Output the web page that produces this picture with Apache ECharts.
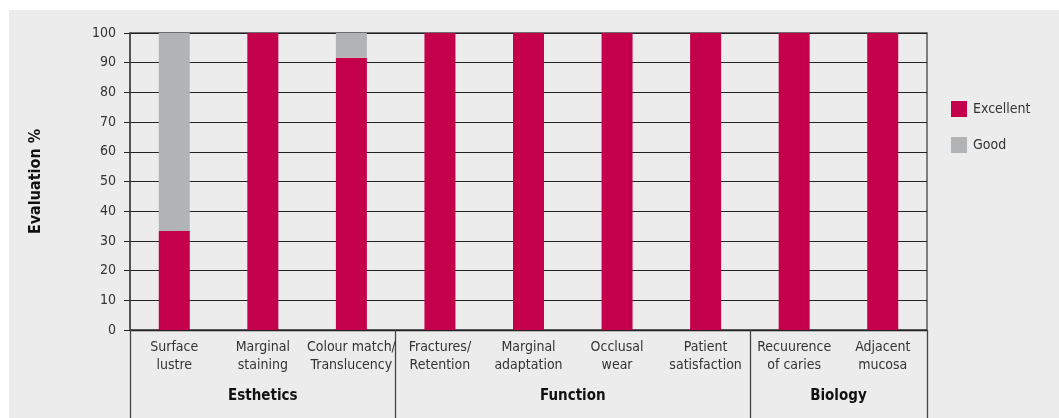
<!DOCTYPE html>
<html>
<head>
<meta charset="utf-8">
<script src="https://cdn.jsdelivr.net/npm/echarts@6/dist/echarts.min.js"></script>
<style>
  html, body { margin: 0; padding: 0; background: #ffffff; }
  #chart { position: absolute; left: 9px; top: 10px; width: 1050px; height: 408px; background: #ebeceb; }
</style>
</head>
<body>
<div id="chart"></div>
<script>
const categories = ['Surface\nlustre', 'Marginal\nstaining', 'Colour match/\nTranslucency', 'Fractures/\nRetention', 'Marginal\nadaptation', 'Occlusal\nwear', 'Patient\nsatisfaction', 'Recuurence\nof caries', 'Adjacent\nmucosa'];
const excellent = [33.3, 100, 91.7, 100, 100, 100, 100, 100, 100];
const good = [66.7, 0, 8.3, 0, 0, 0, 0, 0, 0];
const groupNames = ['Esthetics', 'Function', 'Biology'];
const groupSizes = [3, 4, 2];
const yTicks = [0, 10, 20, 30, 40, 50, 60, 70, 80, 90, 100];

const FONT = '"Liberation Sans Narrow", "DejaVu Sans Condensed", "Liberation Sans", sans-serif';

// group boundaries and centers in category units
const bounds = [0];
groupSizes.forEach(s => bounds.push(bounds[bounds.length - 1] + s));
const centers = groupSizes.map((s, i) => bounds[i] + s / 2);

const chart = echarts.init(document.getElementById('chart'), null, { renderer: 'canvas' });
chart.setOption({
  backgroundColor: 'transparent',
  animation: false,
  grid: { left: 121, top: 23, right: 132, bottom: 88, show: true, borderColor: '#444', borderWidth: 1.3, backgroundColor: 'transparent' },
  legend: {
    orient: 'vertical', left: 942, top: 91, padding: 0, itemWidth: 16, itemHeight: 16, itemGap: 20,
    icon: 'rect',
    textStyle: { fontFamily: FONT, fontSize: 14, color: '#333', padding: [0, 0, 0, 1] },
    data: ['Excellent', 'Good']
  },
  xAxis: [
    {
      type: 'category', data: categories,
      axisLine: { show: true, lineStyle: { color: '#222', width: 1.3 } },
      axisTick: { show: false },
      axisLabel: { interval: 0, margin: 8, fontFamily: FONT, fontSize: 14, lineHeight: 18, color: '#333' }
    },
    {
      type: 'value', min: 0, max: bounds[bounds.length - 1], position: 'bottom',
      axisLine: { show: false },
      splitLine: { show: false },
      axisTick: { show: true, customValues: bounds, length: 90, inside: false, lineStyle: { color: '#444', width: 1.3 } },
      axisLabel: {
        customValues: centers, margin: 59, fontFamily: FONT, fontSize: 15, fontWeight: 'bold', color: '#111',
        formatter: v => groupNames[centers.indexOf(v)] || ''
      }
    }
  ],
  yAxis: {
    type: 'value', min: yTicks[0], max: yTicks[yTicks.length - 1], interval: yTicks[1] - yTicks[0],
    name: 'Evaluation %', nameLocation: 'middle', nameGap: 86, nameRotate: 90,
    nameTextStyle: { fontFamily: FONT, fontSize: 16, fontWeight: 'bold', color: '#111' },
    axisLine: { show: true, lineStyle: { color: '#444', width: 1.5 } },
    axisTick: { show: true, length: 6, lineStyle: { color: '#222' } },
    axisLabel: { margin: 14, fontFamily: FONT, fontSize: 14, color: '#333' },
    splitLine: { show: true, lineStyle: { color: '#222', width: 1.2 } }
  },
  series: [
    { name: 'Excellent', type: 'bar', stack: 's', data: excellent, barWidth: 31, itemStyle: { color: '#c4004b' } },
    { name: 'Good', type: 'bar', stack: 's', data: good, barWidth: 31, itemStyle: { color: '#b2b3b5' } }
  ]
});
</script>
</body>
</html>
